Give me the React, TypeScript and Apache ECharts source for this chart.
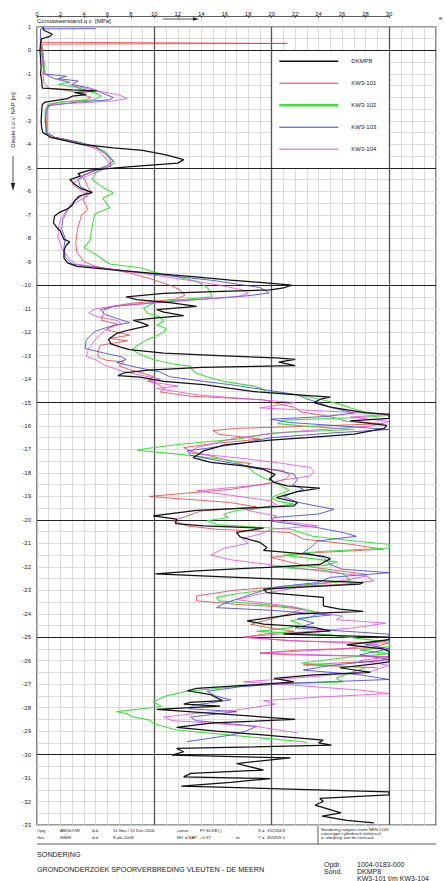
import React, { useEffect, useRef } from "react";
import * as echarts from "echarts";

type Pt = [number, number]; // [depth (m t.o.v. NAP), qc (MPa)]

const seriesNames = ["DKMP8", "KW3-101", "KW3-102", "KW3-103", "KW3-104"];
const seriesColors = ["#111111", "#ee3a3a", "#3ee23e", "#3838d6", "#e448e4"];
const seriesWidths = [1.25, 0.8, 1.1, 0.8, 0.8];
const legendWidths = [1.5, 1, 2.6, 1, 1];

const dkmp8: Pt[] = [
  [1.0, 0.5], [0.85, 0.6], [0.7, 1.3], [0.6, 1.1], [0.5, 0.4], [0.3, 0.3], [0.0, 0.25], [-0.3, 0.3],
  [-0.7, 0.35], [-1.0, 0.3], [-1.3, 0.4], [-1.6, 0.45], [-1.68, 3.0], [-1.72, 5.1], [-1.8, 3.2],
  [-1.88, 4.2], [-1.95, 3.0], [-2.05, 2.6], [-2.2, 0.7], [-2.3, 0.45], [-2.6, 0.4], [-3.0, 0.35],
  [-3.3, 0.4], [-3.5, 0.5], [-3.7, 1.2], [-3.85, 2.5], [-4.0, 3.8], [-4.15, 6.5], [-4.26, 9.0],
  [-4.45, 11.0], [-4.65, 12.5], [-4.8, 12.0], [-4.95, 8.0], [-5.1, 4.5], [-5.25, 3.5], [-5.35, 3.7],
  [-5.5, 2.8], [-5.7, 3.2], [-5.9, 3.8], [-6.05, 4.7], [-6.2, 3.6], [-6.4, 3.2], [-6.6, 3.0],
  [-6.75, 2.6], [-6.9, 1.9], [-7.05, 1.5], [-7.35, 1.4], [-7.55, 1.7], [-7.7, 2.0], [-8.05, 2.3],
  [-8.15, 2.8], [-8.3, 2.5], [-8.5, 2.3], [-8.85, 2.3], [-9.05, 2.6], [-9.2, 3.4], [-9.35, 6.5],
  [-9.5, 9.9], [-9.65, 13.5], [-9.78, 16.5], [-9.9, 19.5], [-10.0, 21.7], [-10.12, 21.0], [-10.2, 19.9],
  [-10.28, 15.0], [-10.35, 10.8], [-10.5, 7.6], [-10.62, 8.5], [-10.75, 11.5], [-10.9, 13.6],
  [-11.04, 10.2], [-11.15, 10.8], [-11.3, 12.5], [-11.4, 10.0], [-11.5, 8.2], [-11.62, 9.0],
  [-11.72, 9.5], [-11.9, 7.9], [-12.05, 6.8], [-12.3, 6.1], [-12.5, 6.3], [-12.65, 7.2], [-12.75, 7.9],
  [-12.9, 10.8], [-13.0, 15.5], [-13.1, 20.4], [-13.16, 22.0], [-13.28, 20.6], [-13.43, 22.0],
  [-13.5, 14.0], [-13.62, 9.5], [-13.74, 7.4], [-13.85, 6.9], [-13.92, 8.8], [-14.1, 10.8],
  [-14.24, 14.2], [-14.4, 16.5], [-14.55, 18.8], [-14.67, 22.2], [-14.77, 25.0], [-14.85, 24.2],
  [-15.0, 23.6], [-15.2, 25.0], [-15.43, 27.9], [-15.5, 30], [-15.67, 30], [-15.78, 26.7],
  [-15.9, 28.5], [-15.97, 29.8], [-16.1, 29.6], [-16.35, 27.0], [-16.5, 23.0], [-16.6, 19.9],
  [-16.8, 16.0], [-17.06, 14.2], [-17.35, 13.3], [-17.55, 14.8], [-17.7, 17.6], [-17.85, 19.3],
  [-18.07, 20.3], [-18.25, 19.8], [-18.4, 20.2], [-18.55, 21.3], [-18.65, 24.1], [-18.8, 22.2],
  [-18.97, 21.0], [-19.05, 20.4], [-19.26, 22.2], [-19.4, 21.9], [-19.45, 19.9], [-19.6, 13.6],
  [-19.83, 9.9], [-19.97, 11.9], [-20.16, 11.8], [-20.26, 14.2], [-20.35, 19.3], [-20.53, 17.0],
  [-20.72, 17.3], [-20.96, 19.0], [-21.18, 19.6], [-21.3, 19.3], [-21.46, 23.0], [-21.55, 24.4],
  [-21.65, 25.0], [-21.9, 24.1], [-22.03, 19.3], [-22.17, 13.6], [-22.3, 10.1], [-22.45, 17.0],
  [-22.55, 22.0], [-22.67, 27.8], [-22.74, 27.5], [-22.95, 19.3], [-23.1, 19.6], [-23.3, 24.4],
  [-23.66, 24.4], [-23.8, 25.8], [-23.9, 27.8], [-24.0, 22.2], [-24.3, 17.9], [-24.44, 19.3],
  [-24.58, 23.6], [-24.73, 25.0], [-24.87, 21.0], [-25.0, 30], [-25.1, 30], [-25.33, 26.4],
  [-25.5, 29.5], [-25.6, 30], [-26.05, 30], [-26.15, 28.6], [-26.3, 25.8], [-26.5, 28.4],
  [-26.6, 23.6], [-26.75, 20.2], [-26.9, 21.9], [-26.98, 19.9], [-27.18, 13.6], [-27.28, 12.8],
  [-27.45, 14.8], [-27.7, 15.8], [-27.78, 13.0], [-27.85, 12.5], [-27.93, 15.6], [-28.07, 10.2],
  [-28.24, 15.0], [-28.5, 22.0], [-28.65, 15.0], [-28.84, 11.9], [-29.0, 15.3], [-29.38, 24.4],
  [-29.5, 24.0], [-29.6, 25.1], [-29.74, 11.9], [-29.88, 12.5], [-30.02, 11.5], [-30.14, 21.6],
  [-30.38, 17.0], [-30.66, 19.3], [-30.8, 13.1], [-30.95, 12.5], [-31.02, 19.9], [-31.18, 16.5],
  [-31.34, 12.3], [-31.45, 20.0], [-31.59, 30], [-31.72, 30], [-31.87, 24.1], [-32.0, 24.4],
  [-32.15, 23.7], [-32.3, 24.7], [-32.48, 25.9], [-32.62, 24.3], [-32.8, 26.4], [-32.91, 28.7],
];

const kw3_101: Pt[] = [
  [0.35, 0.3], [0.3, 21.3], [0.27, 0.4], [0.0, 0.5], [-0.5, 0.6], [-1.0, 0.5], [-1.4, 0.6], [-1.6, 1.0],
  [-1.7, 2.5], [-1.8, 3.5], [-1.9, 4.0], [-2.0, 4.6], [-2.1, 4.2], [-2.2, 2.0], [-2.3, 0.9], [-2.6, 0.7],
  [-3.0, 0.8], [-3.5, 0.8], [-3.7, 1.0], [-3.9, 3.0], [-4.1, 4.5], [-4.3, 5.8], [-4.6, 6.2], [-4.93, 6.3],
  [-5.1, 5.0], [-5.36, 3.8], [-5.5, 4.1], [-5.8, 4.3], [-6.07, 4.7], [-6.25, 4.0], [-6.4, 3.95],
  [-6.6, 4.2], [-6.8, 4.3], [-7.0, 3.8], [-7.2, 3.7], [-7.5, 3.5], [-7.77, 3.4], [-8.2, 3.3], [-8.6, 3.4],
  [-9.0, 4.0], [-9.2, 5.0], [-9.48, 7.9], [-9.75, 9.8], [-10.0, 11.3], [-10.2, 12.2], [-10.43, 12.6],
  [-10.6, 11.8], [-10.78, 7.9], [-10.9, 6.5], [-11.07, 5.7], [-11.3, 5.6], [-11.5, 5.5], [-11.65, 6.8],
  [-11.9, 5.9], [-12.13, 7.9], [-12.27, 6.2], [-12.37, 7.7], [-12.56, 5.4], [-12.8, 5.2], [-13.06, 5.2],
  [-13.2, 5.9], [-13.27, 7.4], [-13.45, 7.0], [-13.6, 7.9], [-13.75, 9.0], [-13.9, 9.9], [-14.05, 9.5],
  [-14.2, 10.2], [-14.4, 10.9], [-14.55, 10.5], [-14.73, 13.1], [-14.88, 19.3], [-15.05, 20.5],
  [-15.2, 21.9], [-15.4, 22.5], [-15.6, 25.0], [-15.8, 26.4], [-15.9, 29.5], [-16.0, 24.0], [-16.1, 17.0],
  [-16.2, 15.0], [-16.35, 15.5], [-16.56, 19.0], [-16.75, 15.0], [-16.92, 12.5], [-17.1, 13.2],
  [-17.3, 15.0], [-17.5, 16.5], [-17.6, 18.2], [-17.72, 17.8], [-17.9, 21.0], [-18.1, 21.5],
  [-18.25, 21.2], [-18.4, 20.2], [-18.7, 16.5], [-18.85, 13.0], [-19.0, 9.6], [-19.08, 11.5],
  [-19.15, 13.6], [-19.26, 16.5], [-19.45, 18.7], [-19.62, 14.0], [-19.83, 12.8], [-20.04, 11.6],
  [-20.26, 12.8], [-20.4, 15.3], [-20.54, 21.6], [-20.82, 22.7], [-21.04, 26.7], [-21.25, 29.5],
  [-21.4, 23.6], [-21.6, 19.9], [-21.85, 22.0], [-22.03, 23.6], [-22.3, 27.8], [-22.6, 28.7],
  [-22.75, 26.0], [-22.88, 19.9], [-23.0, 16.8], [-23.24, 13.6], [-23.45, 13.6], [-23.52, 15.3],
  [-23.6, 17.0], [-23.7, 20.5], [-23.8, 22.6], [-24.0, 21.5], [-24.23, 19.9], [-24.45, 18.2],
  [-24.6, 19.9], [-24.75, 21.9], [-24.87, 19.3], [-25.0, 17.6], [-25.15, 21.5], [-25.25, 30],
  [-25.45, 28.4], [-25.55, 22.2], [-25.68, 19.0], [-25.75, 21.6], [-25.83, 30], [-26.0, 29.3],
  [-26.18, 22.7], [-26.3, 29.0],
];

const kw3_102: Pt[] = [
  [0.3, 0.3], [0.0, 0.4], [-0.5, 0.6], [-1.0, 0.7], [-1.2, 1.5], [-1.35, 2.8], [-1.45, 1.8], [-1.55, 3.2],
  [-1.7, 4.2], [-1.85, 5.2], [-1.95, 5.5], [-2.1, 4.8], [-2.2, 2.0], [-2.3, 1.0], [-2.6, 0.7], [-3.0, 0.7],
  [-3.5, 0.8], [-3.7, 1.5], [-3.85, 3.0], [-4.1, 5.0], [-4.4, 6.0], [-4.6, 6.3], [-4.79, 6.6],
  [-4.95, 6.0], [-5.2, 5.0], [-5.5, 4.7], [-5.8, 5.5], [-6.07, 6.5], [-6.3, 5.6], [-6.5, 5.9],
  [-6.7, 6.2], [-6.9, 5.2], [-7.0, 4.9], [-7.5, 4.7], [-8.1, 4.5], [-8.4, 4.0], [-8.6, 4.7], [-8.8, 5.3],
  [-9.1, 6.2], [-9.26, 8.8], [-9.45, 10.0], [-9.6, 11.5], [-9.83, 13.6], [-10.1, 14.5], [-10.33, 14.8],
  [-10.5, 14.9], [-10.62, 12.0], [-10.75, 10.0], [-10.97, 9.1], [-11.2, 9.4], [-11.35, 10.5],
  [-11.54, 10.8], [-11.7, 10.2], [-11.85, 11.0], [-12.0, 10.8], [-12.15, 10.2], [-12.32, 9.4],
  [-12.55, 8.6], [-12.75, 8.1], [-12.95, 8.8], [-13.17, 9.9], [-13.35, 11.5], [-13.46, 13.1],
  [-13.6, 13.2], [-13.75, 13.6], [-13.9, 14.5], [-14.1, 15.9], [-14.3, 18.5], [-14.45, 19.3],
  [-14.55, 19.5], [-14.67, 22.2], [-14.9, 24.5], [-15.1, 26.0], [-15.23, 26.7], [-15.4, 28.0],
  [-15.55, 30], [-15.65, 27.0], [-15.75, 21.0], [-15.9, 20.5], [-16.05, 24.0], [-16.15, 27.0],
  [-16.3, 20.0], [-16.55, 17.2], [-16.78, 12.2], [-16.95, 9.5], [-17.03, 8.5], [-17.2, 12.0],
  [-17.46, 16.5], [-17.75, 18.0], [-18.0, 18.5], [-18.2, 19.3], [-18.4, 20.2], [-18.6, 21.0],
  [-18.75, 21.5], [-19.05, 19.9], [-19.2, 20.5], [-19.33, 21.9], [-19.45, 19.9], [-19.6, 17.0],
  [-19.76, 15.9], [-19.9, 16.3], [-20.04, 14.5], [-20.2, 15.3], [-20.4, 21.6], [-20.7, 23.5],
  [-20.9, 27.0], [-21.04, 30], [-21.2, 30], [-21.35, 24.1], [-21.5, 21.0], [-21.65, 23.5],
  [-21.8, 25.6], [-21.95, 24.4], [-22.0, 19.9], [-22.15, 24.4], [-22.3, 26.1], [-22.6, 26.7],
  [-22.8, 22.2], [-23.0, 19.3], [-23.15, 17.0], [-23.3, 15.3], [-23.45, 15.5], [-23.6, 19.3],
  [-23.75, 22.2], [-23.95, 24.1], [-24.16, 23.3], [-24.3, 21.6], [-24.45, 22.5], [-24.6, 21.6],
  [-24.75, 18.7], [-24.9, 25.0], [-25.05, 27.3], [-25.2, 30], [-25.4, 30], [-25.55, 27.5],
  [-25.7, 30], [-25.85, 26.5], [-26.1, 22.5], [-26.3, 28.0], [-26.55, 26.5], [-26.75, 25.5],
  [-26.9, 26.0], [-26.98, 21.0], [-27.1, 17.0], [-27.3, 12.8], [-27.5, 11.0], [-27.75, 9.9],
  [-27.95, 10.6], [-28.17, 6.8], [-28.25, 7.6], [-28.4, 8.2], [-28.53, 9.6], [-28.7, 10.0],
  [-28.95, 11.9], [-29.17, 16.5], [-29.3, 19.3], [-29.45, 22.7], [-29.52, 23.0],
];

const kw3_103: Pt[] = [
  [0.93, 5.0], [0.92, 0.3], [0.5, 0.3], [0.0, 0.4], [-0.5, 0.5], [-1.0, 0.6], [-1.1, 2.5], [-1.2, 1.8],
  [-1.3, 3.5], [-1.45, 3.0], [-1.6, 4.5], [-1.8, 5.5], [-2.0, 6.5], [-2.1, 6.2], [-2.2, 3.5],
  [-2.35, 1.0], [-2.6, 0.8], [-3.0, 0.7], [-3.5, 0.8], [-3.7, 1.5], [-3.9, 3.5], [-4.1, 5.0],
  [-4.4, 5.8], [-4.7, 6.5], [-4.9, 6.0], [-5.1, 5.0], [-5.3, 4.0], [-5.5, 3.5], [-5.8, 3.7],
  [-6.0, 4.4], [-6.2, 3.8], [-6.5, 3.0], [-6.8, 2.6], [-7.2, 2.2], [-7.6, 2.1], [-8.0, 2.4],
  [-8.4, 2.3], [-8.8, 2.4], [-9.1, 3.0], [-9.3, 6.0], [-9.5, 9.5], [-9.8, 15.0], [-10.1, 19.0],
  [-10.33, 19.8], [-10.45, 18.0], [-10.6, 14.0], [-10.75, 10.0], [-10.9, 6.5], [-11.05, 5.4],
  [-11.25, 5.8], [-11.45, 7.0], [-11.6, 7.9], [-11.72, 6.5], [-11.95, 5.0], [-12.32, 4.2],
  [-12.7, 4.1], [-12.9, 5.8], [-13.05, 7.2], [-13.17, 7.6], [-13.3, 6.8], [-13.5, 8.5], [-13.7, 10.5],
  [-13.9, 11.3], [-14.0, 12.8], [-14.1, 14.2], [-14.24, 16.5], [-14.45, 19.3], [-14.67, 22.2],
  [-14.85, 23.0], [-15.0, 24.0], [-15.2, 25.0], [-15.45, 27.0], [-15.6, 24.5], [-15.71, 19.9],
  [-15.85, 21.5], [-16.0, 26.0], [-16.15, 30], [-16.3, 25.0], [-16.5, 19.9], [-16.78, 17.0],
  [-17.06, 12.8], [-17.25, 13.1], [-17.46, 15.3], [-17.7, 17.9], [-17.9, 20.5], [-18.05, 21.9],
  [-18.3, 22.2], [-18.5, 21.8], [-18.7, 22.7], [-19.0, 21.0], [-19.25, 22.2], [-19.55, 25.3],
  [-19.75, 24.0], [-19.9, 20.2], [-20.05, 19.9], [-20.33, 23.9], [-20.54, 26.1], [-20.7, 27.2],
  [-20.9, 23.9], [-21.1, 23.5], [-21.4, 22.7], [-21.6, 24.4], [-21.9, 25.0], [-22.1, 26.0],
  [-22.25, 30], [-22.45, 25.0], [-22.67, 23.9], [-22.85, 20.5], [-23.05, 19.0], [-23.3, 17.5],
  [-23.55, 16.0], [-23.74, 15.3], [-23.85, 19.9], [-24.05, 25.0], [-24.2, 22.2], [-24.4, 23.6],
  [-24.6, 22.0], [-24.87, 30], [-25.1, 30], [-25.3, 28.0], [-25.5, 30], [-25.75, 27.5], [-25.95, 30],
  [-26.2, 25.0], [-26.4, 22.7], [-26.6, 27.5], [-26.8, 30], [-26.95, 22.0], [-27.1, 17.5],
  [-27.3, 14.5], [-27.5, 15.2], [-27.67, 16.5], [-27.9, 13.3], [-28.05, 13.0], [-28.17, 17.0],
  [-28.4, 13.1], [-28.55, 13.5], [-28.8, 18.7], [-29.0, 17.8], [-29.17, 16.5], [-29.45, 12.8],
];

const kw3_104: Pt[] = [
  [0.3, 0.3], [0.0, 0.35], [-0.5, 0.5], [-1.0, 0.6], [-1.2, 1.5], [-1.35, 2.6], [-1.5, 3.0], [-1.7, 5.0],
  [-1.9, 7.0], [-2.05, 7.7], [-2.15, 6.5], [-2.3, 1.2], [-2.5, 0.9], [-3.0, 0.9], [-3.5, 0.9],
  [-3.7, 1.5], [-3.9, 3.2], [-4.1, 4.8], [-4.4, 5.5], [-4.7, 6.0], [-4.9, 6.3], [-5.1, 5.5],
  [-5.3, 4.5], [-5.5, 3.5], [-5.7, 3.0], [-6.0, 3.8], [-6.2, 4.3], [-6.4, 3.6], [-6.6, 2.8],
  [-6.9, 2.4], [-7.2, 2.0], [-7.6, 1.8], [-8.0, 1.8], [-8.5, 2.2], [-8.9, 2.8], [-9.1, 3.3],
  [-9.3, 6.0], [-9.5, 9.0], [-9.8, 13.0], [-10.0, 15.5], [-10.2, 17.5], [-10.35, 18.0], [-10.5, 17.0],
  [-10.7, 11.0], [-10.9, 6.5], [-11.0, 5.0], [-11.18, 4.4], [-11.35, 5.2], [-11.5, 6.8], [-11.65, 7.2],
  [-11.8, 6.2], [-11.95, 5.7], [-12.3, 5.0], [-12.7, 4.4], [-13.03, 4.2], [-13.2, 5.1], [-13.4, 5.7],
  [-13.7, 7.5], [-14.0, 10.5], [-14.1, 9.4], [-14.3, 12.0], [-14.4, 10.2], [-14.67, 13.6],
  [-14.88, 18.8], [-15.0, 22.0], [-15.23, 19.0], [-15.35, 24.0], [-15.5, 30], [-15.62, 26.7],
  [-15.8, 30], [-16.0, 28.5], [-16.25, 21.5], [-16.5, 17.0], [-16.78, 14.8], [-16.92, 13.6],
  [-17.15, 13.0], [-17.4, 17.9], [-17.6, 21.0], [-17.77, 23.3], [-17.95, 23.6], [-18.13, 23.3],
  [-18.3, 21.0], [-18.5, 19.3], [-18.76, 13.6], [-18.95, 16.5], [-19.19, 19.9], [-19.35, 20.4],
  [-19.6, 17.9], [-19.83, 20.4], [-20.0, 19.9], [-20.25, 23.9], [-20.4, 20.0], [-20.6, 19.0],
  [-20.8, 17.5], [-21.0, 18.0], [-21.2, 16.0], [-21.5, 14.8], [-21.7, 16.5], [-21.95, 20.5],
  [-22.2, 24.5], [-22.4, 28.0], [-22.55, 26.5], [-22.75, 23.5], [-22.95, 21.5], [-23.15, 19.0],
  [-23.4, 17.0], [-23.55, 19.5], [-23.7, 21.8], [-23.9, 23.0], [-24.1, 26.0], [-24.25, 25.5],
  [-24.4, 29.7], [-24.6, 27.0], [-24.8, 22.0], [-25.0, 17.6], [-25.15, 22.0], [-25.3, 29.0],
  [-25.5, 26.0], [-25.68, 19.0], [-25.75, 24.0], [-25.83, 30], [-26.0, 27.5], [-26.2, 30],
  [-26.45, 28.5], [-26.7, 23.0], [-26.9, 17.6], [-27.05, 22.0], [-27.25, 27.5], [-27.4, 30],
  [-27.55, 24.0], [-27.7, 19.3], [-27.85, 20.3], [-28.1, 17.0], [-28.25, 13.5], [-28.4, 10.8],
  [-28.55, 11.5], [-28.8, 18.7], [-28.95, 20.5], [-29.07, 22.2],
];

const allSeries: Pt[][] = [dkmp8, kw3_101, kw3_102, kw3_103, kw3_104];

const majorQc = [10, 20, 30];
const majorDepth = [0, -5, -10, -15, -20, -25, -30];
const legendBoxQc = [20, 30];
const legendBoxDepth = [0, -5];

const xTitle = "Conusweerstand,q c  [MPa]";
const yTitle = "Diepte t.o.v. NAP [m]";
const infoRow1 = ["Opg. :", "AMGUVW", "d.d.", "11-Nov / 15 Dec-2006", "conus :", "FT.SCKE( )", "", "X =  132334.8"];
const infoRow2 = ["Get. :", "WMH", "d.d.", "8-okt-2008", "MV = NAP", "+0.97", "m", "Y =  455959.0"];
const normLines = ["Sondering volgens norm NEN 5140", "conustype cylindrisch elektrisch", "a: afwijking van de verticaal"];
const titleLines = ["SONDERING", "GRONDONDERZOEK SPOORVERBREDING VLEUTEN - DE MEERN"];
const projectLabels = ["Opdr.", "Sond."];
const projectValues = ["1004-0183-000", "DKMP8", "KW3-101 t/m KW3-104"];

const FONT = "Liberation Sans, Arial, sans-serif";

export default function App() {
  const ref = useRef<HTMLDivElement>(null);

  useEffect(() => {
    if (!ref.current) return;
    const chart = echarts.init(ref.current, undefined, { renderer: "svg" });

    const infoCols = [37, 60, 92, 113, 177, 200, 236, 258];
    const txt = (text: string, x: number, y: number, size: number, extra: any = {}) => ({
      type: "text",
      x,
      y,
      silent: true,
      style: { text, fontSize: size, fontFamily: FONT, fill: "#222", verticalAlign: "middle", ...extra },
    });

    const graphics: any[] = [
      txt(xTitle, 37, 20.5, 6),
      { type: "line", silent: true, shape: { x1: 163, y1: 19, x2: 194, y2: 19 }, style: { stroke: "#222", lineWidth: 0.8 } },
      { type: "polygon", silent: true, shape: { points: [[193, 17.2], [199, 19], [193, 20.8]] }, style: { fill: "#222" } },
      txt("e", 439, 18, 6),
      {
        type: "text",
        x: 13,
        y: 120,
        rotation: Math.PI / 2,
        silent: true,
        style: { text: yTitle, fontSize: 6, fontFamily: FONT, fill: "#222", align: "center", verticalAlign: "middle" },
      },
      { type: "line", silent: true, shape: { x1: 13, y1: 156, x2: 13, y2: 185 }, style: { stroke: "#222", lineWidth: 0.8 } },
      { type: "polygon", silent: true, shape: { points: [[10.8, 183], [15.2, 183], [13, 191]] }, style: { fill: "#222" } },
      { type: "line", silent: true, shape: { x1: 37, y1: 844, x2: 436, y2: 844 }, style: { stroke: "#333", lineWidth: 0.8 } },
      { type: "line", silent: true, shape: { x1: 318, y1: 825, x2: 318, y2: 844 }, style: { stroke: "#333", lineWidth: 0.8 } },
    ];
    infoRow1.forEach((t, i) => t && graphics.push(txt(t, infoCols[i], 830.7, 4.3)));
    infoRow2.forEach((t, i) => t && graphics.push(txt(t, infoCols[i], 837.3, 4.3)));
    normLines.forEach((t, i) => graphics.push(txt(t, 321, 829.7 + i * 4, 4.3)));
    graphics.push(txt(titleLines[0], 37, 854.3, 7.2));
    graphics.push(txt(titleLines[1], 37, 869, 7.2));
    projectLabels.forEach((t, i) => graphics.push(txt(t, 324, 864 + i * 7.7, 7)));
    projectValues.forEach((t, i) => graphics.push(txt(t, 357, 864 + i * 7.2, 7)));

    const dataSeries = allSeries.map((pts, i) => ({
      name: seriesNames[i],
      type: "line",
      xAxisIndex: 0,
      yAxisIndex: 0,
      data: pts.map(([d, q]) => [q, d]),
      symbol: "none",
      showSymbol: false,
      silent: true,
      lineStyle: { color: seriesColors[i], width: seriesWidths[i] },
      itemStyle: { color: seriesColors[i] },
      z: i === 0 ? 6 : 5,
    }));

    const option: any = {
      animation: false,
      backgroundColor: "#ffffff",
      textStyle: { fontFamily: FONT },
      grid: [
        { left: 37, top: 27, width: 399, height: 798, show: true, borderColor: "#3a3a3a", borderWidth: 1.2, backgroundColor: "#fff" },
        { left: 37, top: 6, width: 352, height: 10, show: false },
      ],
      xAxis: [
        {
          type: "value", gridIndex: 0, min: 0, max: 34, interval: 1, position: "top",
          axisLine: { show: false }, axisTick: { show: false }, axisLabel: { show: false },
          splitLine: { show: true, lineStyle: { color: "#d2d2d2", width: 0.8 } },
        },
        {
          type: "value", gridIndex: 1, min: 0, max: 30, interval: 2, position: "top",
          axisLine: { show: true, lineStyle: { color: "#333", width: 0.8 } },
          axisTick: { show: true, inside: true, length: 2, lineStyle: { color: "#333", width: 0.8 } },
          axisLabel: { show: true, inside: true, fontSize: 6, color: "#222", margin: 5, fontFamily: FONT },
          splitLine: { show: false },
        },
      ],
      yAxis: [
        {
          type: "value", gridIndex: 0, min: -33, max: 1, interval: 0.5,
          axisLine: { show: false }, axisTick: { show: false },
          axisLabel: {
            fontSize: 6, color: "#222", margin: 6, fontFamily: FONT,
            formatter: (v: number) => (Number.isInteger(v) ? String(v) : ""),
          },
          splitLine: { show: true, lineStyle: { color: "#d2d2d2", width: 0.8 } },
        },
        { type: "value", gridIndex: 1, min: 0, max: 1, show: false },
      ],
      legend: {
        orient: "vertical",
        left: 278,
        top: 58,
        padding: 0,
        itemWidth: 59,
        itemHeight: 8,
        itemGap: 15.6,
        selectedMode: false,
        itemStyle: { opacity: 0 },
        textStyle: { fontSize: 6, color: "#222", fontFamily: FONT, padding: [0, 0, 0, 8] },
        data: seriesNames.map((n, i) => ({ name: n, lineStyle: { width: legendWidths[i], color: seriesColors[i] } })),
      },
      series: [
        {
          name: "_box", type: "line", data: [], z: 1, silent: true,
          markArea: {
            silent: true,
            itemStyle: { color: "#ffffff" },
            data: [[{ xAxis: legendBoxQc[0], yAxis: legendBoxDepth[0] }, { xAxis: legendBoxQc[1], yAxis: legendBoxDepth[1] }]],
          },
        },
        {
          name: "_major", type: "line", data: [], z: 2, silent: true,
          markLine: {
            silent: true,
            symbol: ["none", "none"],
            label: { show: false },
            lineStyle: { type: "solid", width: 1.2, color: "#333" },
            data: [
              ...majorQc.map((v) => ({ xAxis: v, lineStyle: { color: "#555", width: 1.3, type: "solid" } })),
              ...majorDepth.map((v) => ({ yAxis: v, lineStyle: { color: "#222", width: 1.2, type: "solid" } })),
            ],
          },
        },
        ...dataSeries,
      ],
      graphic: graphics,
    };

    chart.setOption(option);
    return () => chart.dispose();
  }, []);

  return (
    <div
      ref={ref}
      style={{ position: "absolute", left: 0, top: 0, width: 446, height: 881, background: "#fff" }}
    />
  );
}
